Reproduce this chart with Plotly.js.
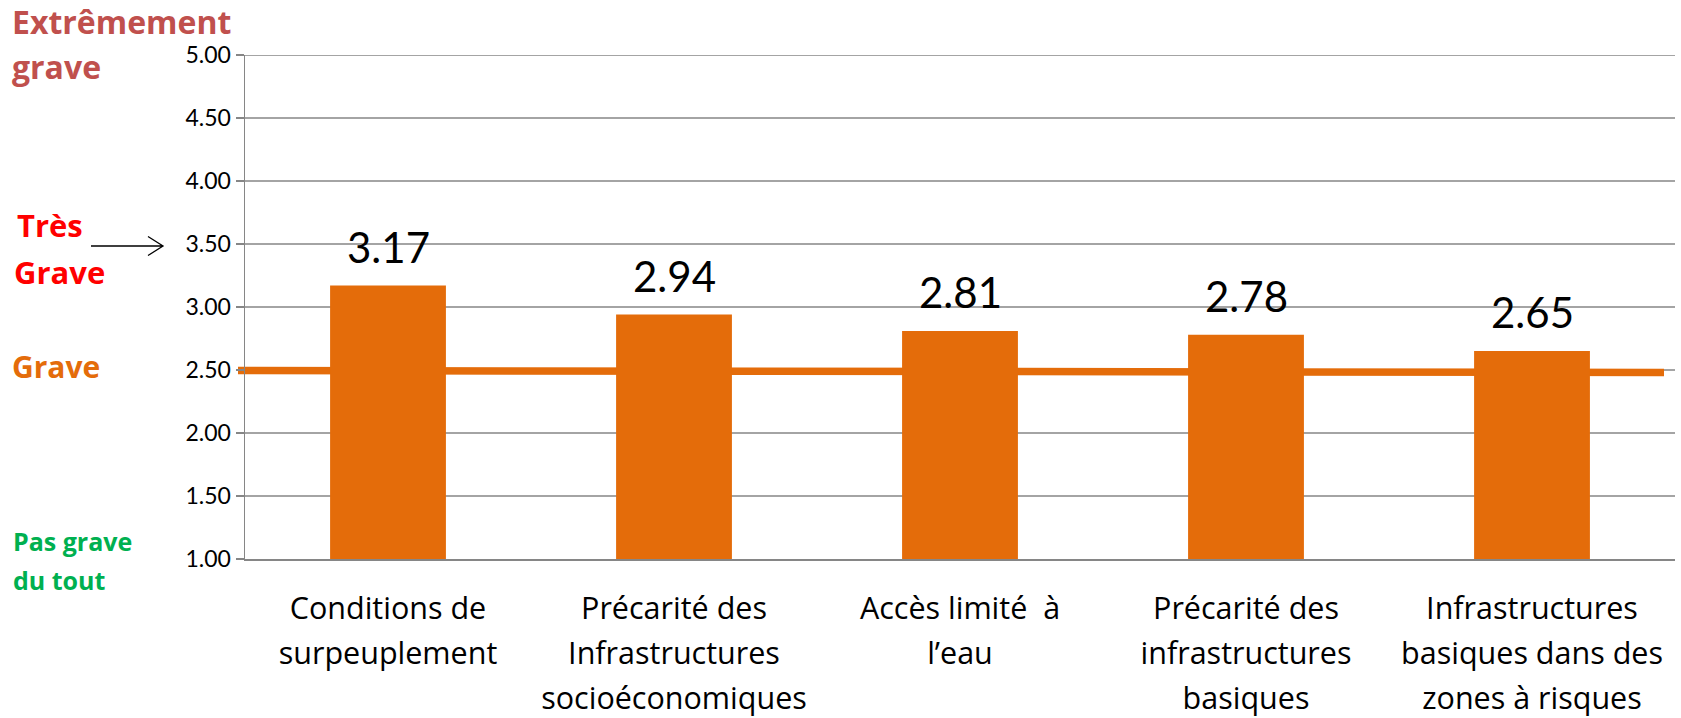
<!DOCTYPE html>
<html>
<head>
<meta charset="utf-8">
<script src="https://cdn.plot.ly/plotly-3.0.1.min.js"></script>
<style>html,body{margin:0;padding:0;background:#fff;}#chart{width:1681px;height:718px;}</style>
</head>
<body>
<div id="chart"></div>
<script>
// ---- data ----
const categories = [
  "Conditions de|surpeuplement",
  "Précarité des|Infrastructures|socioéconomiques",
  "Accès limité\u00a0 à|l’eau",
  "Précarité des|infrastructures|basiques",
  "Infrastructures|basiques dans des|zones à risques"
];
const scores = [3.17, 2.94, 2.81, 2.78, 2.65];
const yTickValues = [1.0, 1.5, 2.0, 2.5, 3.0, 3.5, 4.0, 4.5, 5.0];
const thresholdGrave = 2.5;
const severityLabels = [
  {lines: ["Extrêmement", "grave"], color: "#C0504D"},
  {lines: ["Très", "Grave"], color: "#FF0000"},
  {lines: ["Grave"], color: "#E46C0A"},
  {lines: ["Pas grave", "du tout"], color: "#00B050"}
];

// ---- layout helpers (pixel -> paper) ----
const W = 1681, H = 718;
const M = {l: 245, r: 6, t: 55, b: 159};
const PW = W - M.l - M.r, PH = H - M.t - M.b;
const px = x => (x - M.l) / PW;
const py = y => (H - M.b - y) / PH;

const NUMFONT = "Lato, 'Open Sans', sans-serif";
const TXTFONT = "'Open Sans', Lato, sans-serif";
const barColor = "#E46C0A";
const gridColor = "#868686";

const catIds = categories.map((c, i) => "c" + i);
const tickText = categories.map(c => c.split("|").map(l => '<span style="font-size:30.5px">' + l + '</span>').join("<br>"));

const trace = {
  type: "bar",
  x: catIds,
  y: scores.map(v => v - 1),   // bars rise from the axis minimum (1.00)
  base: 1,
  marker: {color: barColor, line: {width: 0}},
  hoverinfo: "skip"
};

const annotations = [];
// data value labels
scores.forEach((v, i) => {
  annotations.push({
    x: catIds[i], y: v, xref: "x", yref: "y",
    text: v.toFixed(2), showarrow: false,
    yanchor: "bottom", yshift: 12,
    font: {family: NUMFONT, size: 42, color: "#000"}
  });
});

// severity labels (per line placement)
const sevPos = [
  [{x: 10, y: 21.6, s: 32}, {x: 10, y: 66.5, s: 32}],
  [{x: 15, y: 225, s: 31}, {x: 12, y: 272, s: 31}],
  [{x: 10, y: 366.4, s: 30}],
  [{x: 11, y: 541.3, s: 25}, {x: 11, y: 580.3, s: 25}]
];
severityLabels.forEach((lab, i) => {
  lab.lines.forEach((ln, j) => {
    const p = sevPos[i][j];
    annotations.push({
      xref: "paper", yref: "paper", x: px(p.x), y: py(p.y),
      xanchor: "left", yanchor: "middle", showarrow: false,
      text: "<b>" + ln + "</b>",
      font: {family: TXTFONT, size: p.s, color: lab.color}
    });
  });
});

// gridlines (below traces), then the "Grave" threshold line over them, bars on top
const shapes = yTickValues.slice(1).map(v => ({
  type: "line", layer: "below", xref: "paper", yref: "y",
  x0: 0, x1: 1, y0: v, y1: v,
  line: {color: gridColor, width: 1.5}
}));
shapes.push({
  type: "line", layer: "below",
  xref: "paper", yref: "y",
  x0: px(238), x1: px(1664),
  y0: thresholdGrave - 0.004, y1: thresholdGrave - 0.02,
  line: {color: barColor, width: 7.5}
});
shapes.push({
  type: "path", xref: "paper", yref: "paper",
  path: "M" + px(91) + "," + py(246) + " L" + px(163) + "," + py(246) +
        " M" + px(148) + "," + py(236.5) + " L" + px(163) + "," + py(246) + " L" + px(148) + "," + py(255.5),
  line: {color: "#000", width: 1.3}
});

const layout = {
  width: W, height: H,
  margin: M,
  paper_bgcolor: "#fff", plot_bgcolor: "#fff",
  showlegend: false,
  bargap: 0.595,
  font: {family: NUMFONT, color: "#000"},
  xaxis: {
    type: "category",
    tickvals: catIds, ticktext: tickText,
    tickfont: {family: TXTFONT, size: 34.5, color: "#000"},
    showline: true, linecolor: gridColor, linewidth: 1.5,
    ticks: "", showgrid: false, zeroline: false,
    ticklabelstandoff: 17,
    fixedrange: true
  },
  yaxis: {
    range: [1, 5],
    tickvals: yTickValues,
    ticktext: yTickValues.map(v => v.toFixed(2)),
    tickfont: {family: NUMFONT, size: 23, color: "#000"},
    showline: true, linecolor: gridColor, linewidth: 1.5,
    ticks: "outside", ticklen: 8, tickcolor: gridColor, tickwidth: 1.5,
    showgrid: false,
    zeroline: false,
    fixedrange: true
  },
  annotations: annotations,
  shapes: shapes
};

Plotly.newPlot("chart", [trace], layout, {displayModeBar: false, staticPlot: true});
</script>
</body>
</html>
